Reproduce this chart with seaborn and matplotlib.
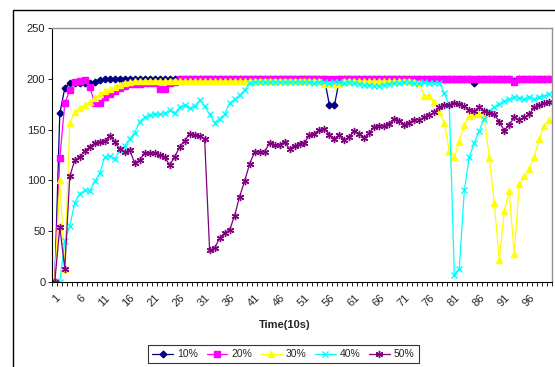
import numpy as np
import pandas as pd
import matplotlib
matplotlib.use('Agg')
import matplotlib.pyplot as plt
from matplotlib.patches import Rectangle
import seaborn as sns

# Values, one per 10 s step (1..100)
time = list(range(1, 101))

s10 = [0, 166, 191, 196, 196, 196, 196, 196, 197, 199,
       200, 200, 200, 200, 200, 200, 200, 200, 200, 200,
       200, 200, 200, 200, 200, 200, 200, 200, 200, 200,
       200, 200, 200, 200, 200, 200, 200, 200, 200, 200,
       200, 200, 200, 200, 200, 200, 200, 200, 200, 200,
       200, 200, 200, 200, 200, 174, 174, 200, 200, 200,
       200, 200, 200, 200, 200, 200, 200, 200, 200, 200,
       200, 200, 200, 200, 200, 200, 200, 200, 200, 200,
       200, 200, 200, 200, 196, 200, 200, 200, 200, 200,
       200, 200, 198, 200, 200, 200, 200, 200, 200, 200]

s20 = [0, 122, 176, 189, 197, 198, 199, 192, 176, 176,
       182, 185, 188, 191, 193, 195, 195, 195, 196, 196,
       196, 190, 190, 196, 197, 200, 200, 200, 200, 200,
       200, 200, 200, 200, 200, 200, 200, 200, 200, 200,
       200, 200, 200, 200, 200, 200, 200, 200, 200, 200,
       200, 200, 200, 200, 200, 200, 200, 200, 200, 200,
       200, 200, 200, 200, 200, 200, 200, 200, 200, 200,
       200, 200, 200, 200, 200, 200, 200, 200, 200, 200,
       200, 200, 200, 200, 200, 200, 200, 200, 200, 200,
       200, 200, 197, 200, 200, 200, 200, 200, 200, 200]

s30 = [0, 100, 13, 157, 167, 171, 174, 177, 181, 185,
       188, 190, 192, 194, 196, 197, 198, 198, 198, 198,
       198, 198, 198, 198, 198, 198, 198, 198, 198, 198,
       198, 198, 198, 198, 198, 198, 198, 198, 198, 198,
       198, 198, 198, 198, 198, 198, 198, 198, 198, 198,
       198, 198, 198, 198, 195, 195, 195, 195, 198, 198,
       198, 198, 198, 198, 198, 198, 198, 198, 198, 198,
       198, 198, 197, 196, 183, 183, 177, 167, 157, 129,
       123, 138, 155, 163, 165, 165, 163, 122, 78, 21,
       70, 89, 27, 96, 104, 111, 123, 141, 154, 160]

s40 = [0, 0, 40, 55, 78, 87, 90, 89, 99, 107,
       123, 124, 121, 130, 134, 141, 147, 158, 162, 164,
       165, 165, 166, 169, 166, 172, 174, 171, 173, 179,
       173, 165, 157, 161, 165, 176, 180, 184, 189, 196,
       197, 197, 197, 197, 197, 197, 197, 197, 197, 197,
       197, 197, 196, 197, 197, 196, 197, 197, 196, 197,
       196, 195, 194, 194, 193, 193, 194, 195, 196, 196,
       197, 197, 196, 196, 197, 196, 196, 196, 186, 174,
       7, 13, 90, 123, 137, 149, 161, 168, 172, 175,
       178, 180, 182, 181, 180, 182, 180, 182, 183, 185]

s50 = [0, 54, 13, 104, 120, 123, 129, 133, 137, 138,
       139, 144, 138, 131, 128, 130, 117, 120, 127, 127,
       127, 125, 123, 115, 123, 133, 139, 146, 145, 144,
       141, 31, 33, 43, 48, 51, 65, 84, 99, 116,
       128, 128, 128, 137, 135, 135, 138, 131, 134, 136,
       137, 145, 146, 150, 151, 145, 141, 145, 140, 143,
       149, 146, 142, 147, 153, 154, 154, 156, 161, 159,
       155, 157, 160, 160, 162, 164, 167, 172, 174, 174,
       176, 175, 173, 169, 168, 172, 168, 166, 165, 158,
       149, 155, 162, 160, 162, 165, 172, 174, 176, 177]

names = ['10%', '20%', '30%', '40%', '50%']
colors = ['#000080', '#FF00FF', '#FFFF00', '#00FFFF', '#800080']
markers = ['D', 's', '^', 'x', (6, 2, 0)]
msizes = [3.4, 3.8, 4.4, 4.4, 5.2]
mews = [1.0, 1.0, 1.0, 1.0, 1.0]

df = pd.DataFrame({'Time': time * 5,
                   'Value': s10 + s20 + s30 + s40 + s50,
                   'Series': sum([[n] * len(time) for n in names], [])})

sns.set_style('white')
plt.rcParams['font.family'] = ['Liberation Sans', 'DejaVu Sans']

fig = plt.figure(figsize=(5.55, 3.67), dpi=100)
ax = fig.add_axes([52.3 / 555, 1 - 281.7 / 367, 499.4 / 555, 253.4 / 367])

for name, c, m, ms, mew in zip(names, colors, markers, msizes, mews):
    sub = df[df['Series'] == name]
    sns.lineplot(data=sub, x='Time', y='Value', ax=ax, color=c, marker=m,
                 markersize=ms, markeredgecolor=c, markerfacecolor=c,
                 markeredgewidth=mew, linewidth=0.9, label=name)

ax.set_xlim(0.5, 100.5)
ax.set_ylim(0, 250)
ax.set_yticks(range(0, 251, 50))
ax.set_xticks(list(range(1, 101, 5)))
ax.set_xticklabels([str(t) for t in range(1, 101, 5)], rotation=45,
                   ha='right', rotation_mode='anchor', fontsize=8)
ax.set_xticks(np.arange(0.5, 101, 1), minor=True)
ax.tick_params(axis='x', which='major', length=0, pad=8)
ax.tick_params(axis='x', which='minor', length=3, width=0.6, color='black',
               direction='out', bottom=True)
ax.tick_params(axis='y', length=3, width=0.6, color='black', direction='out',
               left=True, labelsize=8, pad=2)
ax.set_xlabel('')
ax.set_ylabel('')
for side in ['left', 'bottom']:
    ax.spines[side].set_color('black')
    ax.spines[side].set_linewidth(0.8)
for side in ['top', 'right']:
    ax.spines[side].set_color('#909090')
    ax.spines[side].set_linewidth(1.0)

fig.text(285 / 555, 1 - 325 / 367, 'Time(10s)', ha='center', va='center',
         fontsize=8, fontweight='bold')

handles, labels = ax.get_legend_handles_labels()
ax.get_legend().remove()
leg = fig.legend(handles, labels, loc='upper center', ncol=5,
                 bbox_to_anchor=(283.5 / 555, 1 - 345 / 367), fontsize=7.5,
                 frameon=True, fancybox=False, edgecolor='black',
                 handlelength=2.0, handletextpad=0.4, columnspacing=0.8,
                 borderpad=0.4, borderaxespad=0)
leg.get_frame().set_linewidth(0.8)

# outer chart frame
fig.add_artist(Rectangle((13 / 555, -0.1), 1.2, 1.1 - 10 / 367,
                         transform=fig.transFigure, fill=False,
                         edgecolor='black', linewidth=1.0))

fig.savefig('out.png', dpi=100)
